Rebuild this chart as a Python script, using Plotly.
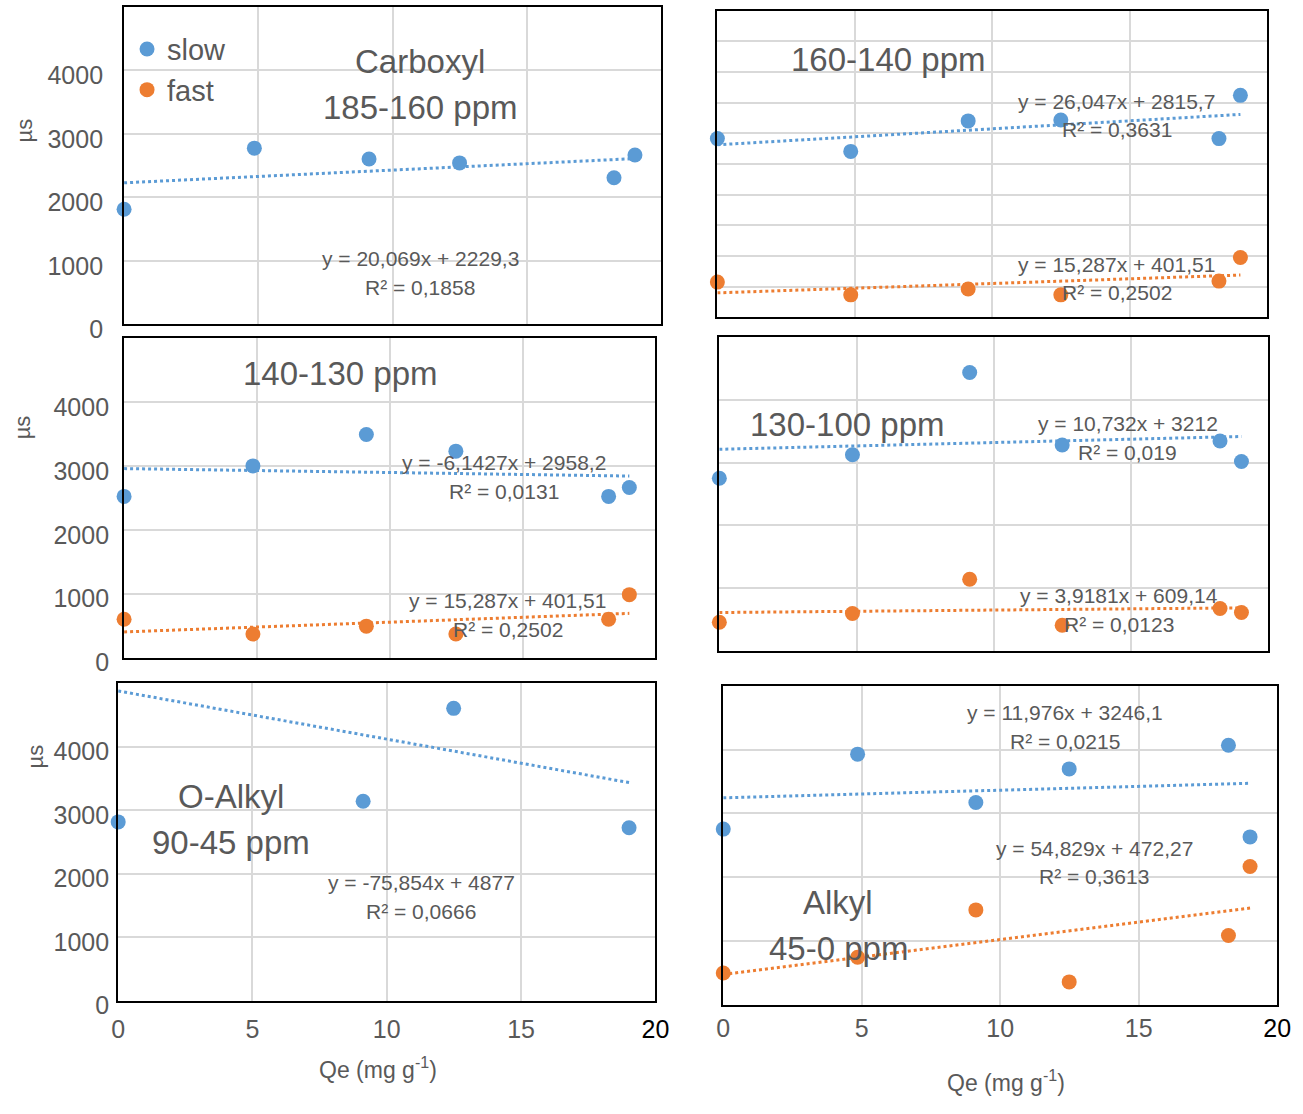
import plotly.graph_objects as go

W, H = 1303, 1114

# ---------------- data ----------------
qe = [0, 4.85, 9.12, 12.49, 18.24, 19.02]          # Qe (mg g-1)
qe_oalkyl = [0, 9.12, 12.49, 19.02]

carboxyl_slow = [1814, 2775, 2605, 2543, 2310, 2667]
p160_slow = [2917, 2708, 3205, 3221, 2917, 3622]
p160_fast = [577, 369, 465, 369, 593, 978]
p140_slow = [2523, 3000, 3492, 3231, 2523, 2662]
p140_fast = [600, 369, 492, 369, 600, 985]
p130_slow = [2750, 3125, 4437, 3281, 3344, 3016]
p130_fast = [453, 594, 1140, 406, 672, 609]
oalkyl_slow = [2815, 3141, 4603, 2722]
alkyl_slow = [2755, 3932, 3173, 3700, 4071, 2632]
alkyl_fast = [495, 743, 1486, 356, 1084, 2167]

# trend lines (slope, intercept) as given by the equations
trend_slope = {
    "carboxyl_slow": 20.069, "p160_slow": 26.047, "p160_fast": 15.287,
    "p140_slow": -6.1427, "p140_fast": 15.287, "p130_slow": 10.732,
    "p130_fast": 3.9181, "oalkyl_slow": -75.854, "alkyl_slow": 11.976,
    "alkyl_fast": 54.829,
}
trend_icpt = {
    "carboxyl_slow": 2229.3, "p160_slow": 2815.7, "p160_fast": 401.51,
    "p140_slow": 2958.2, "p140_fast": 401.51, "p130_slow": 3212,
    "p130_fast": 609.14, "oalkyl_slow": 4877, "alkyl_slow": 3246.1,
    "alkyl_fast": 472.27,
}
eq_text = {
    "carboxyl_slow": ("y = 20,069x + 2229,3", "R² = 0,1858"),
    "p160_slow": ("y = 26,047x + 2815,7", "R² = 0,3631"),
    "p160_fast": ("y = 15,287x + 401,51", "R² = 0,2502"),
    "p140_slow": ("y = -6,1427x + 2958,2", "R² = 0,0131"),
    "p140_fast": ("y = 15,287x + 401,51", "R² = 0,2502"),
    "p130_slow": ("y = 10,732x + 3212", "R² = 0,019"),
    "p130_fast": ("y = 3,9181x + 609,14", "R² = 0,0123"),
    "oalkyl_slow": ("y = -75,854x + 4877", "R² = 0,0666"),
    "alkyl_slow": ("y = 11,976x + 3246,1", "R² = 0,0215"),
    "alkyl_fast": ("y = 54,829x + 472,27", "R² = 0,3613"),
}
panel_titles = [["Carboxyl", "185-160 ppm"], ["160-140 ppm"], ["140-130 ppm"],
                ["130-100 ppm"], ["O-Alkyl", "90-45 ppm"], ["Alkyl", "45-0 ppm"]]
x_ticks = [0, 5, 10, 15, 20]
x_ticklabels = ["0", "5", "10", "15", '<span style="color:black">20</span>']
y_ticks = [0, 1000, 2000, 3000, 4000]
y_ticklabels = ["0", "1000", "2000", "3000", "4000"]

series_data = {
    "carboxyl_slow": (qe, carboxyl_slow), "p160_slow": (qe, p160_slow),
    "p160_fast": (qe, p160_fast), "p140_slow": (qe, p140_slow),
    "p140_fast": (qe, p140_fast), "p130_slow": (qe, p130_slow),
    "p130_fast": (qe, p130_fast), "oalkyl_slow": (qe_oalkyl, oalkyl_slow),
    "alkyl_slow": (qe, alkyl_slow), "alkyl_fast": (qe, alkyl_fast),
}

# ---------------- layout constants ----------------
BLUE = "#5B9BD5"
ORANGE = "#ED7D31"
GRAY = "#595959"
GRID = "#D9D9D9"
FONT = "Liberation Sans, Arial, sans-serif"

def px(x):
    return x / W

def py(y):
    return 1 - y / H

# plot boxes in pixels (left, top, right, bottom)
boxes = [(119, 7, 665, 330), (722, 11, 1281, 323), (119, 344, 659, 669),
         (724, 343, 1282, 662), (113, 695, 659, 1018), (728, 698, 1291, 1022)]
panel_series = [["carboxyl_slow"], ["p160_slow", "p160_fast"],
                ["p140_slow", "p140_fast"], ["p130_slow", "p130_fast"],
                ["oalkyl_slow"], ["alkyl_slow", "alkyl_fast"]]
show_y_labels = [True, False, True, False, True, False]
show_x_labels = [False, False, False, False, True, True]
x_standoff = [6, 6, 6, 6, 5, 0]
y_standoff = [14, 14, 8, 8, 2, 2]
y_dtick = [1000, 500, 1000, 1000, 1000, 1000]

title_pos = [[(420, 63), (420, 109)], [(895, 61)], [(338, 380)], [(854, 432)],
             [(228, 810), (228, 857)], [(845, 918), (845, 965)]]
eq_pos = {
    "carboxyl_slow": (420, 263), "p160_slow": (1128, 103), "p160_fast": (1128, 269),
    "p140_slow": (505, 471), "p140_fast": (509, 611), "p130_slow": (1139, 431),
    "p130_fast": (1130, 606), "oalkyl_slow": (421, 898), "alkyl_slow": (1075, 725),
    "alkyl_fast": (1105, 863),
}

fig = go.Figure()
annotations = []
legend_shown = set()


def add_text(x, y, text, size, color=GRAY, angle=0):
    annotations.append(dict(x=px(x), y=py(y), xref="paper", yref="paper",
                            xanchor="center", yanchor="middle", text=text,
                            textangle=angle, showarrow=False,
                            font=dict(size=size, color=color, family=FONT)))


for i, (box, keys) in enumerate(zip(boxes, panel_series)):
    n = "" if i == 0 else str(i + 1)
    xa, ya = "x" + n, "y" + n
    for key in keys:
        xs, ys = series_data[key]
        color = BLUE if key.endswith("slow") else ORANGE
        name = "slow" if key.endswith("slow") else "fast"
        showleg = name not in legend_shown
        legend_shown.add(name)
        x0, x1 = min(xs), max(xs)
        s, b = trend_slope[key], trend_icpt[key]
        fig.add_trace(go.Scatter(
            x=[x0, x1], y=[s * x0 + b, s * x1 + b], mode="lines",
            line=dict(color=color, width=3, dash="dot"),
            showlegend=False, hoverinfo="skip", xaxis=xa, yaxis=ya))
        fig.add_trace(go.Scatter(
            x=xs, y=ys, mode="markers", name=name, legendgroup=name,
            legendrank=1 if name == "slow" else 2,
            marker=dict(color=color, size=15), showlegend=showleg,
            xaxis=xa, yaxis=ya, cliponaxis=False))
        ex, ey = eq_pos[key]
        l1, l2 = eq_text[key]
        add_text(ex, ey, l1, 21)
        add_text(ex, ey + 29, l2, 21)
    l, t, r, btm = box
    axis_common = dict(showline=True, linecolor="black", linewidth=2, mirror=True,
                       showgrid=True, gridcolor=GRID, gridwidth=2, zeroline=False,
                       tickfont=dict(size=25, color=GRAY, family=FONT))
    fig.layout["xaxis" + n] = dict(
        domain=[px(l), px(r)], anchor=ya, range=[0, 20],
        tickmode="array", tickvals=x_ticks, ticktext=x_ticklabels,
        showticklabels=show_x_labels[i], ticklabelstandoff=x_standoff[i],
        **axis_common)
    fig.layout["yaxis" + n] = dict(
        domain=[py(btm), py(t)], anchor=xa, range=[0, 5000],
        dtick=y_dtick[i], tick0=0,
        tickmode="array" if show_y_labels[i] else "linear",
        **({"tickvals": y_ticks, "ticktext": y_ticklabels} if show_y_labels[i] else {}),
        showticklabels=show_y_labels[i], ticklabelstandoff=y_standoff[i],
        ticklabelshift=5, **axis_common)
    for line_text, (tx, ty) in zip(panel_titles[i], title_pos[i]):
        add_text(tx, ty, line_text, 33)

# axis titles
for (ax_x, ax_y) in [(18, 133), (16, 435), (29, 770)]:
    add_text(ax_x, ax_y, "µs", 22, angle=-90)
for (ax_x, ax_y) in [(377, 1087), (1015, 1100)]:
    add_text(ax_x, ax_y, "Qe (mg g<sup>-1</sup>)", 23)

fig.update_layout(
    width=W, height=H, margin=dict(l=0, r=0, t=0, b=0),
    paper_bgcolor="white", plot_bgcolor="white",
    annotations=annotations,
    legend=dict(x=px(122), y=py(24), xanchor="left", yanchor="top",
                bgcolor="rgba(0,0,0,0)", font=dict(size=29, color=GRAY, family=FONT),
                itemwidth=30, tracegroupgap=0, valign="top"),
    font=dict(family=FONT),
)

fig.write_html("out.html")
